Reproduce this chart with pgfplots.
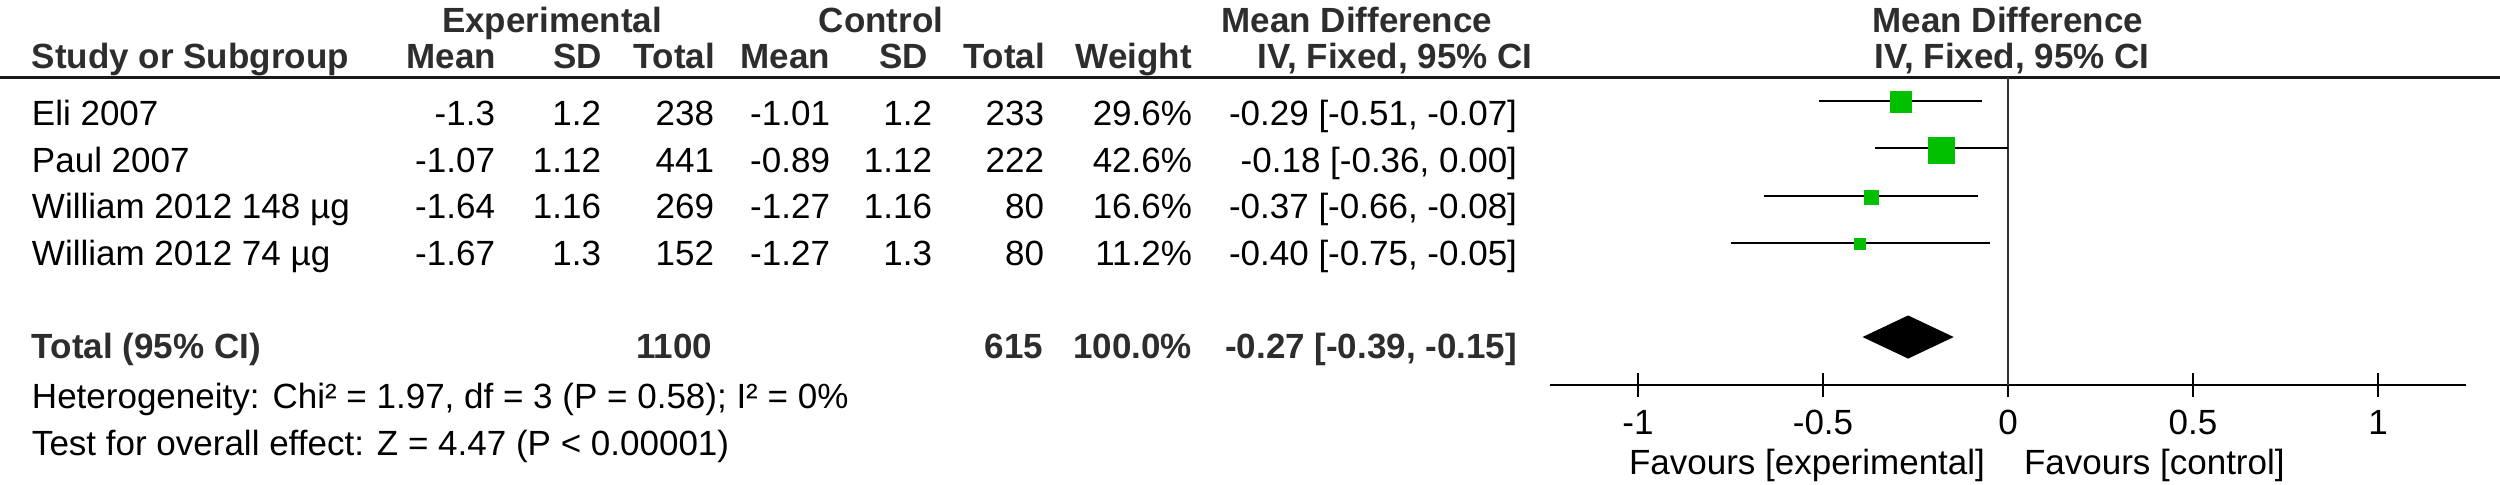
\documentclass[border=0pt]{standalone}
\usepackage{pgfplots}
\pgfplotsset{compat=1.18}
\usepackage{fontspec}
\setmainfont{Liberation Sans}
\definecolor{sqgreen}{RGB}{0,192,0}
\definecolor{hdr}{RGB}{45,45,45}
\begin{document}
\fontsize{7pt}{8.4pt}\selectfont
\begin{tikzpicture}
\useasboundingbox (0,0) rectangle (500pt,-96.8pt);
\begin{scope}[x=0.2pt,y=-0.2pt, every node/.style={inner sep=0pt, outer sep=0pt}]
  \draw[line width=0.6pt, black!90] (0,77) -- (2500,77);
  % header row 1
  \begin{scope}[every node/.append style={font=\bfseries, text=hdr, anchor=base}]
    \node at (552,32) {Experimental};
    \node at (881,32) {Control};
    \node at (1357,32) {Mean Difference};
    \node at (2008,32) {Mean Difference};
    \node[anchor=base west] at (32,68) {Study or Subgroup};
    \node[anchor=base east] at (496,68) {Mean};
    \node[anchor=base east] at (602,68) {SD};
    \node[anchor=base east] at (715,68) {Total};
    \node[anchor=base east] at (830,68) {Mean};
    \node[anchor=base east] at (928,68) {SD};
    \node[anchor=base east] at (1045,68) {Total};
    \node[anchor=base east] at (1192,68) {Weight};
    \node at (1395,68) {IV, Fixed, 95\% CI};
    \node at (2012,68) {IV, Fixed, 95\% CI};
    % total row
    \node[anchor=base west] at (32,358) {Total (95\% CI)};
    \node[anchor=base east] at (712,358) {1100};
    \node[anchor=base east] at (1043,358) {615};
    \node[anchor=base east] at (1192,358) {100.0\%};
    \node[anchor=base east] at (1517,358) {-0.27 [-0.39, -0.15]};
  \end{scope}
  % study rows
  \begin{scope}[every node/.append style={anchor=base east}]
    \node[anchor=base west] at (32,125) {Eli 2007};
    \node at (495,125) {-1.3};
    \node at (601,125) {1.2};
    \node at (714,125) {238};
    \node at (830,125) {-1.01};
    \node at (932,125) {1.2};
    \node at (1044,125) {233};
    \node at (1192,125) {29.6\%};
    \node at (1517,125) {-0.29 [-0.51, -0.07]};
    \node[anchor=base west] at (32,172) {Paul 2007};
    \node at (495,172) {-1.07};
    \node at (601,172) {1.12};
    \node at (714,172) {441};
    \node at (830,172) {-0.89};
    \node at (932,172) {1.12};
    \node at (1044,172) {222};
    \node at (1192,172) {42.6\%};
    \node at (1517,172) {-0.18 [-0.36, 0.00]};
    \node[anchor=base west] at (32,218) {William 2012 148 µg};
    \node at (495,218) {-1.64};
    \node at (601,218) {1.16};
    \node at (714,218) {269};
    \node at (830,218) {-1.27};
    \node at (932,218) {1.16};
    \node at (1044,218) {80};
    \node at (1192,218) {16.6\%};
    \node at (1517,218) {-0.37 [-0.66, -0.08]};
    \node[anchor=base west] at (32,265) {William 2012 74 µg};
    \node at (495,265) {-1.67};
    \node at (601,265) {1.3};
    \node at (714,265) {152};
    \node at (830,265) {-1.27};
    \node at (932,265) {1.3};
    \node at (1044,265) {80};
    \node at (1192,265) {11.2\%};
    \node at (1517,265) {-0.40 [-0.75, -0.05]};
    \node[anchor=base west] at (32,408) {Heterogeneity: Chi² = 1.97, df = 3 (P = 0.58); I² = 0\%};
    \node[anchor=base west] at (32,455) {Test for overall effect: Z = 4.47 (P < 0.00001)};
    \node[anchor=base east] at (1985,474) {Favours [experimental]};
    \node[anchor=base west] at (2024,474) {Favours [control]};
  \end{scope}
\end{scope}
\begin{axis}[
  at={(310pt,-77pt)}, anchor=south west,
  scale only axis, width=183.2pt, height=61.6pt,
  xmin=-1.2378, xmax=1.2378, ymin=-385, ymax=-77,
  axis x line*=bottom, axis y line=none,
  x axis line style={-, line width=0.5pt, black},
  xtick={-1,-0.5,0,0.5,1},
  xticklabels={-1,-0.5,0,0.5,1},
  xticklabel style={anchor=base, yshift=-7.4pt},
  ytick=\empty,
  tick align=center, major tick length=4.8pt,
  every tick/.style={black, line width=0.5pt},
  clip=false,
]
% zero line
\addplot[black!80, line width=0.4pt] coordinates {(0,-77) (0,-385)};
% CIs
\addplot[black, line width=0.5pt] coordinates {(-0.51,-101) (-0.07,-101)};
\addplot[black, line width=0.5pt] coordinates {(-0.36,-148) (0.00,-148)};
\addplot[black, line width=0.5pt] coordinates {(-0.66,-196) (-0.08,-196)};
\addplot[black, line width=0.5pt] coordinates {(-0.75,-243) (-0.05,-243)};
% squares (size ~ weight)
\addplot[only marks, mark=square*, mark size=2.1pt, mark options={fill=sqgreen, draw=sqgreen, line width=0pt}] coordinates {(-0.29,-102)};
\addplot[only marks, mark=square*, mark size=2.6pt, mark options={fill=sqgreen, draw=sqgreen, line width=0pt}] coordinates {(-0.18,-150)};
\addplot[only marks, mark=square*, mark size=1.4pt, mark options={fill=sqgreen, draw=sqgreen, line width=0pt}] coordinates {(-0.37,-197)};
\addplot[only marks, mark=square*, mark size=1.15pt, mark options={fill=sqgreen, draw=sqgreen, line width=0pt}] coordinates {(-0.40,-244)};
% overall diamond
\addplot[fill=black, draw=black, line width=0.2pt] coordinates {(-0.39,-337) (-0.27,-316) (-0.15,-337) (-0.27,-358)} -- cycle;
\end{axis}
\end{tikzpicture}
\end{document}
